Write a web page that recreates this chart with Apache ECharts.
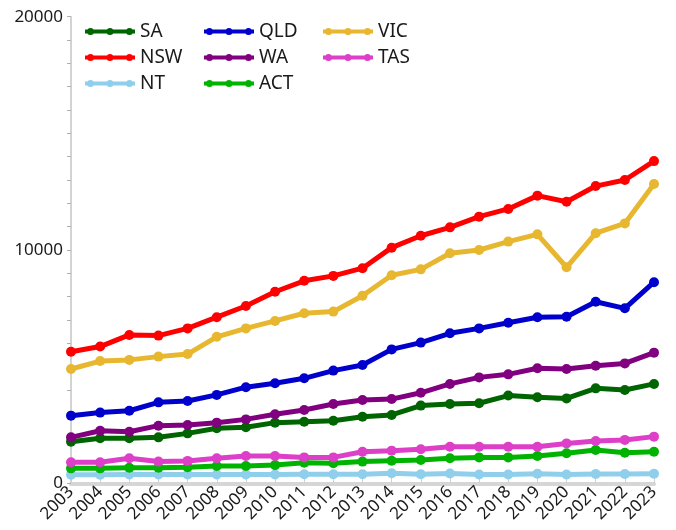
<!DOCTYPE html>
<html>
<head>
<meta charset="utf-8">
<title>States line chart</title>
<script src="https://cdn.jsdelivr.net/npm/echarts@6/dist/echarts.min.js"></script>
<style>
  html, body { margin: 0; padding: 0; background: #fff; }
  #chart { width: 676px; height: 530px; }
</style>
</head>
<body>
<div id="chart"></div>
<script>
// years on the x axis
const years = ['2003', '2004', '2005', '2006', '2007', '2008', '2009', '2010', '2011', '2012',
  '2013', '2014', '2015', '2016', '2017', '2018', '2019', '2020', '2021', '2022', '2023']

// values per state
const SA = [1780, 1930, 1930, 1970, 2140, 2360, 2400, 2600, 2640, 2680, 2850, 2930, 3330, 3400, 3430, 3760, 3690, 3640, 4070, 4000, 4260]
const NSW = [5640, 5860, 6360, 6330, 6640, 7120, 7600, 8210, 8680, 8890, 9220, 10100, 10610, 10970, 11430, 11760, 12330, 12070, 12740, 13000, 13810]
const NT = [370, 370, 380, 380, 380, 380, 380, 380, 390, 390, 390, 430, 390, 420, 380, 380, 410, 380, 400, 400, 410]
const QLD = [2900, 3030, 3110, 3470, 3530, 3790, 4120, 4290, 4500, 4830, 5070, 5740, 6030, 6430, 6640, 6880, 7120, 7140, 7780, 7500, 8620]
const WA = [1970, 2250, 2210, 2470, 2500, 2600, 2740, 2960, 3140, 3400, 3570, 3610, 3880, 4260, 4540, 4670, 4930, 4900, 5040, 5140, 5600]
const ACT = [640, 640, 670, 670, 690, 740, 740, 780, 880, 860, 930, 970, 1000, 1070, 1110, 1110, 1170, 1290, 1430, 1310, 1350]
const VIC = [4900, 5240, 5290, 5430, 5540, 6280, 6640, 6960, 7290, 7360, 8040, 8920, 9170, 9860, 10000, 10360, 10670, 9260, 10720, 11140, 12830]
const TAS = [900, 900, 1070, 930, 960, 1070, 1170, 1170, 1110, 1110, 1350, 1400, 1460, 1570, 1570, 1570, 1570, 1710, 1810, 1860, 2000]

// y axis tick labels
const yTicks = [0, 10000, 20000]

const font = 'Noto Sans'

// legend icon: a thick line with three dots
const legendIcon = 'path://M0,1.5h50v4h-50z' +
  'M2,3.5a3.5,3.5 0 1,1 7,0a3.5,3.5 0 1,1 -7,0z' +
  'M21.5,3.5a3.5,3.5 0 1,1 7,0a3.5,3.5 0 1,1 -7,0z' +
  'M41,3.5a3.5,3.5 0 1,1 7,0a3.5,3.5 0 1,1 -7,0z'

function makeLegend (left, names) {
  return {
    orient: 'vertical',
    left: left,
    top: 17,
    icon: legendIcon,
    itemWidth: 50,
    itemHeight: 7,
    itemGap: 7,
    data: names,
    textStyle: { fontFamily: font, fontSize: 19, lineHeight: 19, color: '#1a1a1a' }
  }
}

function makeLine (name, data, color) {
  return {
    name: name,
    type: 'line',
    data: data,
    symbol: 'circle',
    symbolSize: 10,
    color: color,
    lineStyle: { width: 5, color: color },
    itemStyle: { color: color, borderWidth: 0 }
  }
}

const chart = echarts.init(document.getElementById('chart'))

const option = {
  animation: false,
  backgroundColor: '#fff',
  legend: [
    makeLegend(80, ['SA', 'NSW', 'NT']),
    makeLegend(199, ['QLD', 'WA', 'ACT']),
    makeLegend(318, ['VIC', 'TAS'])
  ],
  grid: {
    left: 71,
    right: 22,
    top: 16.7,
    bottom: 46.7
  },
  xAxis: {
    type: 'category',
    data: years,
    boundaryGap: false,
    axisLine: { lineStyle: { color: '#d6d6d6', width: 4 } },
    axisTick: { show: true, inside: true, interval: 0, length: 6, lineStyle: { color: '#d0d0d0', width: 1 } },
    axisLabel: { interval: 0, rotate: 45, margin: 6, fontFamily: font, fontSize: 17, color: '#1a1a1a', hideOverlap: false }
  },
  yAxis: {
    type: 'value',
    min: yTicks[0],
    max: yTicks[yTicks.length - 1],
    interval: yTicks[1] - yTicks[0],
    splitLine: { show: false },
    axisLine: { show: true, lineStyle: { color: '#c4c4c4', width: 1.5 } },
    axisTick: { show: true, length: 4, lineStyle: { color: '#b0b0b0', width: 1 } },
    minorTick: { show: true, splitNumber: 10, length: 4, lineStyle: { color: '#b0b0b0', width: 1 } },
    axisLabel: { margin: 8, fontFamily: font, fontSize: 17, color: '#1a1a1a', formatter: (v) => String(v) }
  },
  series: [
    makeLine('SA', SA, '#006400'),
    makeLine('NSW', NSW, '#ff0000'),
    makeLine('NT', NT, '#8fcfec'),
    makeLine('QLD', QLD, '#0000cd'),
    makeLine('WA', WA, '#800080'),
    makeLine('ACT', ACT, '#00b300'),
    makeLine('VIC', VIC, '#e8b730'),
    makeLine('TAS', TAS, '#dd3fc8')
  ]
}

chart.setOption(option)
</script>
</body>
</html>
